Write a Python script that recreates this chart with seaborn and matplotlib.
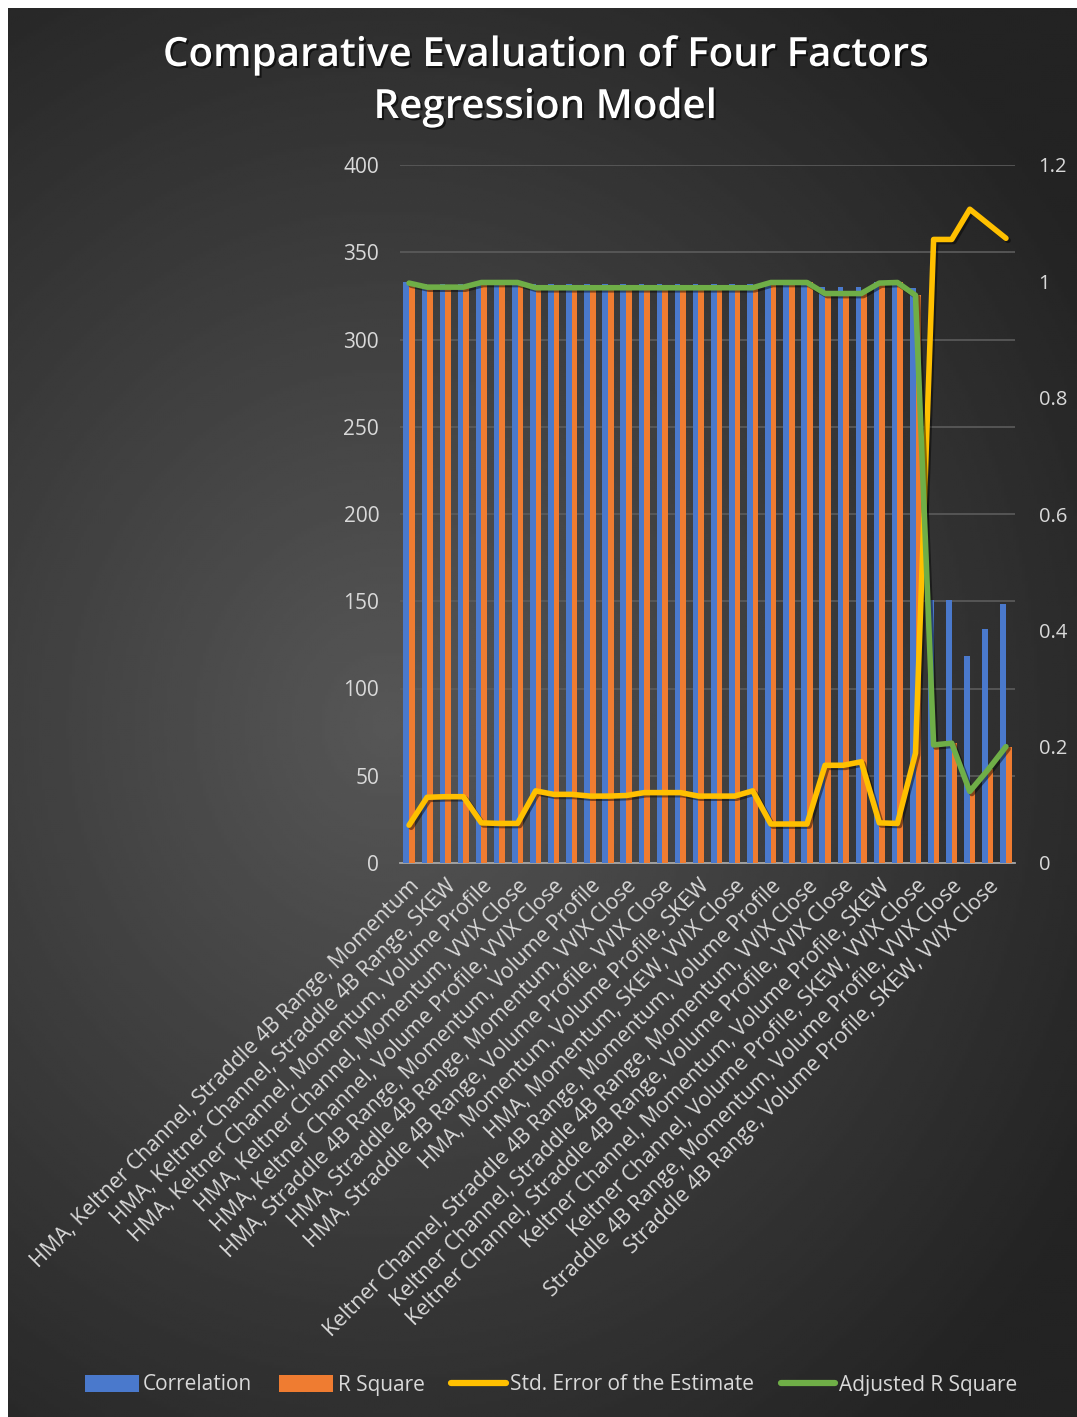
import numpy as np
import pandas as pd
import matplotlib
matplotlib.use("Agg")
import matplotlib.pyplot as plt
import matplotlib.patheffects as pe
from matplotlib.patches import Patch
from matplotlib.lines import Line2D
import seaborn as sns

# ---------------- data ----------------
categories = [
    "HMA, Keltner Channel, Straddle 4B Range, Momentum",
    "HMA, Keltner Channel, Straddle 4B Range, Volume Profile",
    "HMA, Keltner Channel, Straddle 4B Range, SKEW",
    "HMA, Keltner Channel, Straddle 4B Range, VVIX Close",
    "HMA, Keltner Channel, Momentum, Volume Profile",
    "HMA, Keltner Channel, Momentum, SKEW",
    "HMA, Keltner Channel, Momentum, VVIX Close",
    "HMA, Keltner Channel, Volume Profile, SKEW",
    "HMA, Keltner Channel, Volume Profile, VVIX Close",
    "HMA, Keltner Channel, SKEW, VVIX Close",
    "HMA, Straddle 4B Range, Momentum, Volume Profile",
    "HMA, Straddle 4B Range, Momentum, SKEW",
    "HMA, Straddle 4B Range, Momentum, VVIX Close",
    "HMA, Straddle 4B Range, Volume Profile, SKEW",
    "HMA, Straddle 4B Range, Volume Profile, VVIX Close",
    "HMA, Straddle 4B Range, SKEW, VVIX Close",
    "HMA, Momentum, Volume Profile, SKEW",
    "HMA, Momentum, Volume Profile, VVIX Close",
    "HMA, Momentum, SKEW, VVIX Close",
    "HMA, Volume Profile, SKEW, VVIX Close",
    "Keltner Channel, Straddle 4B Range, Momentum, Volume Profile",
    "Keltner Channel, Straddle 4B Range, Momentum, SKEW",
    "Keltner Channel, Straddle 4B Range, Momentum, VVIX Close",
    "Keltner Channel, Straddle 4B Range, Volume Profile, SKEW",
    "Keltner Channel, Straddle 4B Range, Volume Profile, VVIX Close",
    "Keltner Channel, Straddle 4B Range, SKEW, VVIX Close",
    "Keltner Channel, Momentum, Volume Profile, SKEW",
    "Keltner Channel, Momentum, SKEW, VVIX Close",
    "Keltner Channel, Volume Profile, SKEW, VVIX Close",
    "Straddle 4B Range, Momentum, Volume Profile, SKEW",
    "Straddle 4B Range, Momentum, Volume Profile, VVIX Close",
    "Straddle 4B Range, Momentum, SKEW, VVIX Close",
    "Straddle 4B Range, Volume Profile, SKEW, VVIX Close",
    "Momentum, Volume Profile, SKEW, VVIX Close",
]

correlation = [0.999, 0.995, 0.995, 0.995, 0.999, 0.999, 0.999, 0.995, 0.995,
               0.995, 0.995, 0.995, 0.995, 0.995, 0.995, 0.995, 0.995, 0.995,
               0.995, 0.995, 0.999, 0.999, 0.999, 0.991, 0.991, 0.991, 0.999,
               0.999, 0.988, 0.453, 0.453, 0.356, 0.403, 0.446]

r_square = [0.998, 0.991, 0.991, 0.991, 0.998, 0.998, 0.998, 0.990, 0.990,
            0.990, 0.990, 0.990, 0.990, 0.990, 0.990, 0.990, 0.990, 0.990,
            0.990, 0.990, 0.998, 0.998, 0.998, 0.982, 0.982, 0.982, 0.998,
            0.998, 0.977, 0.205, 0.207, 0.127, 0.162, 0.199]

std_error = [0.065, 0.113, 0.114, 0.114, 0.069, 0.068, 0.068, 0.124, 0.118,
             0.118, 0.115, 0.115, 0.116, 0.121, 0.121, 0.121, 0.115, 0.115,
             0.115, 0.124, 0.067, 0.067, 0.067, 0.168, 0.168, 0.174, 0.069,
             0.068, 0.189, 1.072, 1.072, 1.124, 1.099, 1.074]

adj_r_square = [0.997, 0.990, 0.990, 0.990, 0.998, 0.998, 0.998, 0.989, 0.989,
                0.989, 0.989, 0.989, 0.989, 0.989, 0.989, 0.989, 0.989, 0.989,
                0.989, 0.989, 0.998, 0.998, 0.998, 0.979, 0.979, 0.979, 0.997,
                0.998, 0.976, 0.203, 0.206, 0.123, 0.160, 0.200]

series_names = ["Correlation", "R Square", "Std. Error of the Estimate", "Adjusted R Square"]
left_ticks = [0, 50, 100, 150, 200, 250, 300, 350, 400]
right_ticks = [0, 0.2, 0.4, 0.6, 0.8, 1.0, 1.2]
right_tick_labels = ["0", "0.2", "0.4", "0.6", "0.8", "1", "1.2"]
title_lines = ["Comparative Evaluation of Four Factors", "Regression Model"]

# ---------------- style ----------------
sns.set_theme(style="dark")
plt.rcParams['font.family'] = ['Open Sans', 'DejaVu Sans']

BLUE = "#4a79cc"
ORANGE = "#ef7c31"
YELLOW = "#FFC000"
GREEN = "#6fae47"
TXT = "#d9d9d9"
GRID = "#5c5c5c"

W, H, DPI = 1077, 1417, 100
fig = plt.figure(figsize=(W / DPI, H / DPI), dpi=DPI, facecolor="white")

# background radial gradient (decorative)
bg = fig.add_axes([0, 0, 1, 1], zorder=-10)
bg.set_axis_off()
yy, xx = np.mgrid[0:H:3, 0:W:3]
r = np.hypot((xx - 380) / 900.0, (yy - 720) / 1000.0)
val = np.clip(0.34 - 0.22 * r, 0.14, 0.34)
bg.imshow(val, cmap="gray", vmin=0, vmax=1, extent=(8, W, H, 8),
          aspect="auto", interpolation="bilinear")
bg.set_xlim(0, W)
bg.set_ylim(H, 0)

# main axes
ax = fig.add_axes([400 / W, 1 - 863 / H, 615 / W, 698 / H])
ax.patch.set_alpha(0)
ax2 = ax.twinx()
ax2.patch.set_alpha(0)

n = len(categories)
df = pd.DataFrame({
    "Category": categories + categories,
    "Metric": [series_names[0]] * n + [series_names[1]] * n,
    "Value": correlation + r_square,
})
sns.barplot(data=df, x="Category", y="Value", hue="Metric", order=categories,
            palette=[BLUE, ORANGE], width=0.62, saturation=1, ax=ax2,
            legend=False, errorbar=None, linewidth=0)

shadow = [pe.SimpleLineShadow(offset=(1.5, -1.5), shadow_color="black", alpha=0.45),
          pe.Normal()]
for vals, col in [(std_error, YELLOW), (adj_r_square, GREEN)]:
    sns.lineplot(x=categories, y=vals, sort=False, ax=ax2, color=col, lw=4.0,
                 solid_joinstyle="round", solid_capstyle="round",
                 path_effects=shadow, errorbar=None)

ax2.set_xlim(-0.5, n - 0.5)
ax2.set_ylim(0, 1.2)
ax2.set_yticks(right_ticks)
ax2.set_yticklabels(right_tick_labels)
ax2.set_ylabel("")
ax2.set_xlabel("")

ax.set_ylim(0, 400)
ax.set_yticks(left_ticks)
ax.set_yticklabels([str(t) for t in left_ticks])
ax.yaxis.grid(True, color=GRID, lw=1.2)
ax.xaxis.grid(False)
ax.set_axisbelow(True)
ax.set_xticks(range(n))
ax.set_xticklabels([c if i % 2 == 0 else "" for i, c in enumerate(categories)],
                   rotation=45, ha="right", rotation_mode="anchor")
ax.set_xlabel("")
ax.set_ylabel("")

for a in (ax, ax2):
    for s in a.spines.values():
        s.set_visible(False)
    a.tick_params(length=0, colors=TXT)
ax.spines["bottom"].set_visible(True)
ax.spines["bottom"].set_color("#a8a8a8")
ax.spines["bottom"].set_linewidth(1.3)
ax.tick_params(axis="y", labelsize=15, pad=15)
ax2.tick_params(axis="y", labelsize=14.5, pad=17)
ax.tick_params(axis="x", labelsize=15.3, pad=9)

# title
for i, t in enumerate(title_lines):
    fig.text(545 / W, 1 - (56 + 52 * i) / H, t, ha="center", va="center",
             fontsize=29, fontweight="semibold", color="white",
             path_effects=[pe.withSimplePatchShadow(offset=(1.5, -1.5),
                                                     shadow_rgbFace="black",
                                                     alpha=0.6)])

# legend
handles = [Patch(facecolor=BLUE, edgecolor="none"),
           Patch(facecolor=ORANGE, edgecolor="none"),
           Line2D([], [], color=YELLOW, lw=4.5, solid_capstyle="round"),
           Line2D([], [], color=GREEN, lw=4.5, solid_capstyle="round")]
fig.legend(handles, series_names, loc="center", ncol=4, frameon=False,
           bbox_to_anchor=(551 / W, 1 - 1385 / H), fontsize=15,
           labelcolor=TXT, handlelength=2.6, handleheight=0.9,
           handletextpad=0.2, columnspacing=1.3)

fig.savefig("out.png", dpi=DPI, facecolor=fig.get_facecolor())
